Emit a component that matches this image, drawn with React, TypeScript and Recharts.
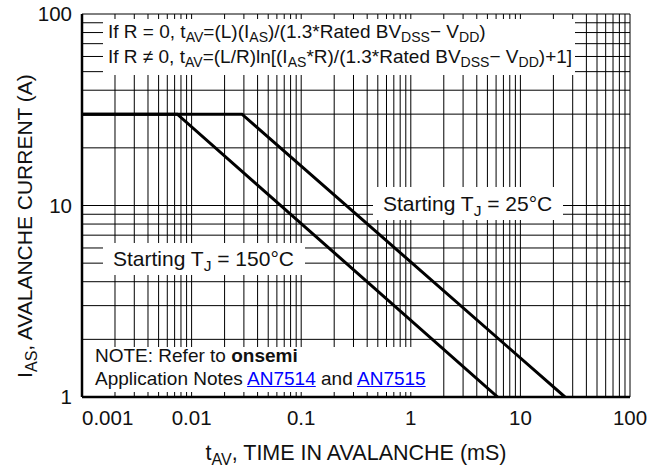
import React from 'react';
import { LineChart, Line, XAxis, YAxis, CartesianGrid } from 'recharts';

// Grid / tick values (log axes)
const xGridTicks = [
  0.001, 0.002, 0.003, 0.004, 0.005, 0.006, 0.007, 0.008, 0.009,
  0.01, 0.02, 0.03, 0.04, 0.05, 0.06, 0.07, 0.08, 0.09,
  0.1, 0.2, 0.3, 0.4, 0.5, 0.6, 0.7, 0.8, 0.9,
  1, 2, 3, 4, 5, 6, 7, 8, 9,
  10, 20, 30, 40, 50, 60, 70, 80, 90,
  100,
];
const yGridTicks = [
  1, 2, 3, 4, 5, 6, 7, 8, 9,
  10, 20, 30, 40, 50, 60, 70, 80, 90,
  100,
];
const xLabelValues = [0.001, 0.01, 0.1, 1, 10, 100];
const xLabelTexts = ['0.001', '0.01', '0.1', '1', '10', '100'];
const yLabelValues = [1, 10, 100];
const yLabelTexts = ['1', '10', '100'];

// Series: Starting TJ = 150°C
const times150 = [0.001, 0.0074, 6.2];
const current150 = [30, 30, 1];
// Series: Starting TJ = 25°C
const times25 = [0.001, 0.0288, 25.5];
const current25 = [30, 30, 1];

const data150 = times150.map((t, k) => ({ t, i: current150[k] }));
const data25 = times25.map((t, k) => ({ t, i: current25[k] }));

const FONT = '"Liberation Sans", Arial, Helvetica, sans-serif';
const TICK_FS = 20.5;

const XTick = (props: any) => {
  const { x, y, payload } = props;
  const idx = xLabelValues.indexOf(payload.value);
  if (idx < 0) return <g />;
  return (
    <text
      x={x}
      y={y + 28}
      textAnchor={idx === 0 ? 'start' : 'middle'}
      fontSize={TICK_FS}
      fontFamily={FONT}
      fill="#111"
    >
      {xLabelTexts[idx]}
    </text>
  );
};

const YTick = (props: any) => {
  const { x, y, payload } = props;
  const idx = yLabelValues.indexOf(payload.value);
  if (idx < 0) return <g />;
  return (
    <text
      x={x - 10}
      y={y + 7}
      textAnchor="end"
      fontSize={TICK_FS}
      fontFamily={FONT}
      fill="#111"
    >
      {yLabelTexts[idx]}
    </text>
  );
};

const XTitle = (props: any) => {
  const vb = props.viewBox || { x: 82, width: 548, y: 397 };
  const cx = vb.x + vb.width / 2;
  return (
    <text x={cx} y={460} textAnchor="middle" fontSize={21.5} fontFamily={FONT} fill="#111">
      <tspan>t</tspan>
      <tspan dy={5} fontSize={16}>AV</tspan>
      <tspan dy={-5}>, TIME IN AVALANCHE (mS)</tspan>
    </text>
  );
};

const YTitle = () => {
  const cx = 32;
  const cy = 226;
  return (
    <text
      x={cx}
      y={cy}
      transform={`rotate(-90 ${cx} ${cy})`}
      textAnchor="middle"
      fontSize={21}
      fontFamily={FONT}
      fill="#111"
    >
      <tspan>I</tspan>
      <tspan dy={5} fontSize={16}>AS</tspan>
      <tspan dy={-5}>, AVALANCHE CURRENT (A)</tspan>
    </text>
  );
};

const Sub = ({ children }: { children: React.ReactNode }) => (
  <span style={{ fontSize: '0.74em', position: 'relative', top: '0.32em' }}>{children}</span>
);

const lineStyle = (top: number, left: number, size: number): React.CSSProperties => ({
  position: 'absolute',
  top,
  left,
  fontSize: size,
  lineHeight: `${size}px`,
  whiteSpace: 'nowrap',
  color: '#111',
  fontFamily: FONT,
});

const boxStyle = (left: number, top: number, width: number, height: number): React.CSSProperties => ({
  position: 'absolute',
  left,
  top,
  width,
  height,
  background: '#fff',
});

const linkStyle: React.CSSProperties = { color: '#0000ff', textDecoration: 'underline' };

export default function App() {
  return (
    <div style={{ position: 'absolute', left: 0, top: 0, width: 657, height: 469, background: '#fff', fontFamily: FONT }}>
      <LineChart width={657} height={469} margin={{ top: 14, right: 27, bottom: 0, left: 0 }}>
        <CartesianGrid stroke="#000" strokeWidth={1} strokeOpacity={1} />
        <XAxis
          dataKey="t"
          type="number"
          scale="log"
          domain={[0.001, 100]}
          ticks={xGridTicks}
          interval={0}
          allowDataOverflow
          height={72}
          tickLine={false}
          tickSize={0}
          tickMargin={0}
          tick={<XTick />}
          axisLine={{ stroke: '#000', strokeWidth: 2.5 }}
          label={<XTitle />}
        />
        <YAxis
          dataKey="i"
          type="number"
          scale="log"
          domain={[1, 100]}
          ticks={yGridTicks}
          interval={0}
          allowDataOverflow
          width={82}
          tickLine={false}
          tickSize={0}
          tickMargin={0}
          tick={<YTick />}
          axisLine={{ stroke: '#000', strokeWidth: 2.5 }}
          label={<YTitle />}
        />
        <Line
          data={data150}
          dataKey="i"
          type="linear"
          stroke="#000"
          strokeWidth={3}
          dot={false}
          isAnimationActive={false}
        />
        <Line
          data={data25}
          dataKey="i"
          type="linear"
          stroke="#000"
          strokeWidth={3}
          dot={false}
          isAnimationActive={false}
        />
      </LineChart>

      {/* Formula box */}
      <div style={boxStyle(103, 19, 472, 56)} />
      <div style={lineStyle(22, 108, 19)}>
        If R = 0, t<Sub>AV</Sub>=(L)(I<Sub>AS</Sub>)/(1.3*Rated BV<Sub>DSS</Sub>− V<Sub>DD</Sub>)
      </div>
      <div style={lineStyle(47, 108, 19)}>
        If R ≠ 0, t<Sub>AV</Sub>=(L/R)ln[(I<Sub>AS</Sub>*R)/(1.3*Rated BV<Sub>DSS</Sub>− V<Sub>DD</Sub>)+1]
      </div>

      {/* 25°C label */}
      <div style={boxStyle(373, 187, 190, 33)} />
      <div style={lineStyle(193, 383, 21)}>
        Starting T<Sub>J</Sub> = 25°C
      </div>

      {/* 150°C label */}
      <div style={boxStyle(103, 243, 202, 32)} />
      <div style={lineStyle(248, 113, 21)}>
        Starting T<Sub>J</Sub> = 150°C
      </div>

      {/* Note box */}
      <div style={boxStyle(84, 347, 344, 45)} />
      <div style={lineStyle(345.5, 95, 19)}>
        NOTE: Refer to <b>onsemi</b>
      </div>
      <div style={lineStyle(369, 95, 19)}>
        Application Notes <span style={linkStyle}>AN7514</span> and <span style={linkStyle}>AN7515</span>
      </div>
    </div>
  );
}
